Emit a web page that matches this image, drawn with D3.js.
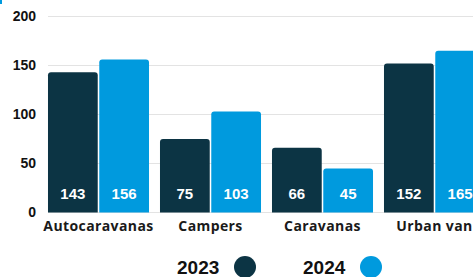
<!DOCTYPE html>
<html>
<head>
<meta charset="utf-8">
<script src="https://cdn.jsdelivr.net/npm/d3@7"></script>
<style>
  body { margin: 0; background: #fff; }
  svg { display: block; }
</style>
</head>
<body>
<div id="chart"></div>
<script>
var categories = ["Autocaravanas", "Campers", "Caravanas", "Urban van"];
var years = ["2023", "2024"];
var values2023 = [143, 75, 66, 152];
var values2024 = [156, 103, 45, 165];
var yTicks = [0, 50, 100, 150, 200];
var colors = ["#0c3444", "#009ade"];

var width = 473, height = 277;

var svg = d3.select("#chart").append("svg")
    .attr("width", width)
    .attr("height", height);

// little blue sliver in the corner
svg.append("rect").attr("x", 0).attr("y", 0).attr("width", 2).attr("height", 4).style("fill", colors[1]);

var x = d3.scaleBand()
    .domain(categories)
    .range([42.5, 490.5])
    .paddingInner(0.098)
    .paddingOuter(0.049);

var xSub = d3.scaleBand()
    .domain(years)
    .range([0, x.bandwidth()])
    .paddingInner(0.03);

var y = d3.scaleLinear()
    .domain([0, 200])
    .range([212.5, 16.5]);

// gridlines
svg.selectAll(".grid")
    .data(yTicks)
    .enter().append("line")
    .attr("x1", 48)
    .attr("x2", width)
    .attr("y1", function(d) { return y(d); })
    .attr("y2", function(d) { return y(d); })
    .style("stroke", "#e3e3e3")
    .style("stroke-width", 1);

// y axis labels
var yAxis = svg.append("g")
    .attr("transform", "translate(36,0)")
    .call(d3.axisLeft(y).tickValues(yTicks).tickSize(0).tickPadding(0));
yAxis.select(".domain").remove();
yAxis.selectAll("text")
    .style("font-family", "'Liberation Sans', Arial, sans-serif")
    .style("font-weight", "bold")
    .style("font-size", "14px")
    .style("fill", "#111");

var rows = categories.map(function(c, i) {
    return { cat: c, vals: [values2023[i], values2024[i]] };
});

var groups = svg.selectAll(".group")
    .data(rows)
    .enter().append("g")
    .attr("transform", function(d) { return "translate(" + x(d.cat) + ",0)"; });

function topRounded(x0, y0, w, h, r) {
    return "M" + x0 + "," + (y0 + h) +
        "V" + (y0 + r) +
        "Q" + x0 + "," + y0 + " " + (x0 + r) + "," + y0 +
        "H" + (x0 + w - r) +
        "Q" + (x0 + w) + "," + y0 + " " + (x0 + w) + "," + (y0 + r) +
        "V" + (y0 + h) + "Z";
}

groups.selectAll("path")
    .data(function(d) { return d.vals.map(function(v, j) { return { year: years[j], v: v, j: j }; }); })
    .enter().append("path")
    .attr("d", function(d) {
        return topRounded(xSub(d.year), y(d.v), xSub.bandwidth(), y(0) - y(d.v), 3);
    })
    .style("fill", function(d) { return colors[d.j]; });

groups.selectAll(".val")
    .data(function(d) { return d.vals.map(function(v, j) { return { year: years[j], v: v, j: j }; }); })
    .enter().append("text")
    .attr("x", function(d) { return xSub(d.year) + xSub.bandwidth() / 2; })
    .attr("y", 199)
    .attr("text-anchor", "middle")
    .style("font-family", "'Liberation Sans', Arial, sans-serif")
    .style("font-weight", "bold")
    .style("font-size", "15px")
    .style("fill", "#fff")
    .text(function(d) { return d.v; });

// category labels
svg.selectAll(".cat")
    .data(categories)
    .enter().append("text")
    .attr("x", function(d) { return x(d) + x.bandwidth() / 2; })
    .attr("y", 231)
    .attr("text-anchor", "middle")
    .style("font-family", "'Open Sans', sans-serif")
    .style("font-weight", "700")
    .style("font-size", "14px")
    .style("letter-spacing", "0.4px")
    .style("fill", "#1a1a1a")
    .text(function(d) { return d; });

// legend
var legendX = [177, 303];
var legend = svg.selectAll(".legend")
    .data(years)
    .enter().append("g")
    .attr("transform", function(d, i) { return "translate(" + legendX[i] + ",0)"; });

legend.append("text")
    .attr("x", 0)
    .attr("y", 274)
    .style("font-family", "'Liberation Sans', Arial, sans-serif")
    .style("font-weight", "bold")
    .style("font-size", "19px")
    .style("fill", "#111")
    .text(function(d) { return d; });

legend.append("circle")
    .attr("cx", 68)
    .attr("cy", 267)
    .attr("r", 11)
    .style("fill", function(d, i) { return colors[i]; });
</script>
</body>
</html>
